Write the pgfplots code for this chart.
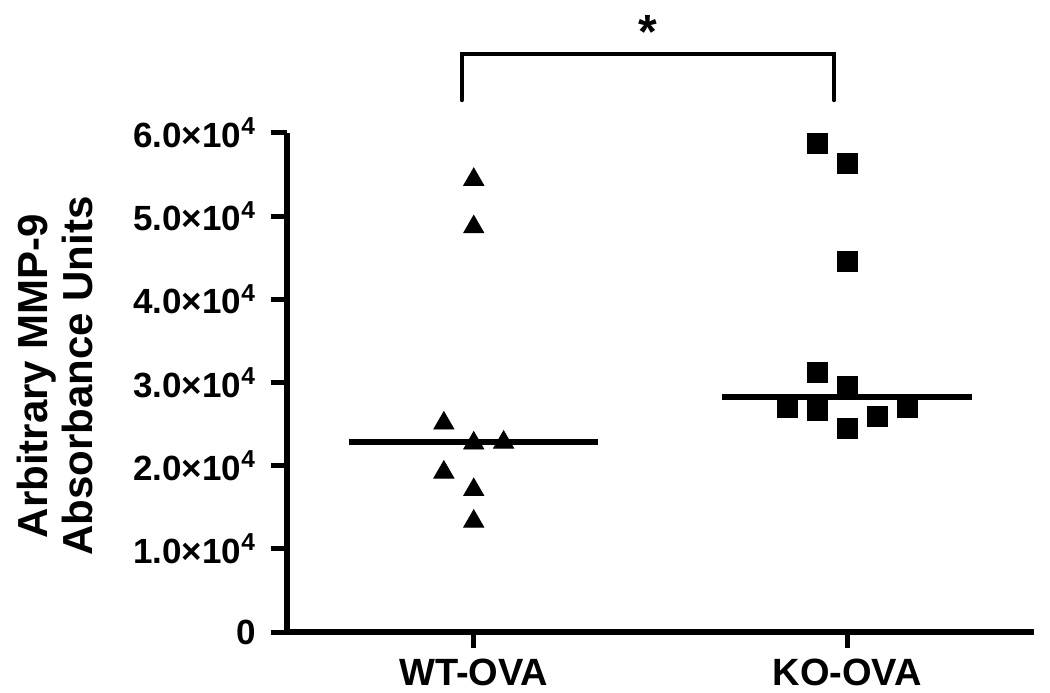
\documentclass[border=0pt]{standalone}
\usepackage{fontspec}
\setmainfont{Liberation Sans}
\usepackage{pgfplots}
\pgfplotsset{compat=1.18}
\pgfplotstableread{
x y
1.00 54400
1.00 48700
0.92 25100
1.00 22700
1.08 22800
0.92 19200
1.00 17100
1.00 13300
}\wtdata
\pgfplotstableread{
x y
1.92 58800
2.00 56400
2.00 44600
1.92 31250
2.00 29570
1.84 27040
1.92 26700
2.00 24500
2.08 25960
2.16 27040
}\kodata
\begin{document}
\begin{tikzpicture}
\begin{axis}[
  name=ax,
  scale only axis, width=373.5pt, height=249.5pt,
  xmin=0.5, xmax=2.5, ymin=0, ymax=60000,
  axis x line=bottom, axis y line=left,
  axis line style={-, line width=3pt},
  clip=false,
  xtick={1,2}, xticklabels={WT-OVA,KO-OVA},
  ytick={0,10000,20000,30000,40000,50000,60000},
  yticklabels={0,1.0×10\textsuperscript{4},2.0×10\textsuperscript{4},3.0×10\textsuperscript{4},4.0×10\textsuperscript{4},5.0×10\textsuperscript{4},6.0×10\textsuperscript{4}},
  scaled y ticks=false,
  tick align=outside,
  major tick length=8pt,
  tick style={line width=2.5pt, black},
  xticklabel style={font=\fontsize{19}{21}\selectfont\bfseries, yshift=-2pt},
  yticklabel style={font=\fontsize{17.5}{19}\selectfont\bfseries, xshift=-4pt},
  ylabel={Arbitrary MMP-9\\Absorbance Units},
  ylabel style={font=\fontsize{21}{22.5}\selectfont\bfseries, align=center,
    at={(axis description cs:-0.3106,0.513)}, anchor=center},
]
\addplot[only marks, mark=triangle*, mark size=5.8pt, black] table[x=x,y=y] {\wtdata};
\addplot[only marks, mark=square*, mark size=5pt, black] table[x=x,y=y] {\kodata};
\addplot[black, line width=3pt] coordinates {(0.666,22800) (1.334,22800)};
\addplot[black, line width=3pt] coordinates {(1.666,28250) (2.334,28250)};
\draw[line width=2pt, line cap=round, line join=miter] (axis cs:0.968,63940) -- (axis cs:0.968,69470) -- (axis cs:1.965,69470) -- (axis cs:1.965,63940);
\node[font=\fontsize{24}{26}\selectfont\bfseries] at (axis cs:1.465,72200) {*};
\end{axis}
\pgfresetboundingbox
\path ([shift={(-143.5pt,-30pt)}]ax.south west) rectangle ([shift={(381.5pt,316pt)}]ax.south west);
\end{tikzpicture}
\end{document}
